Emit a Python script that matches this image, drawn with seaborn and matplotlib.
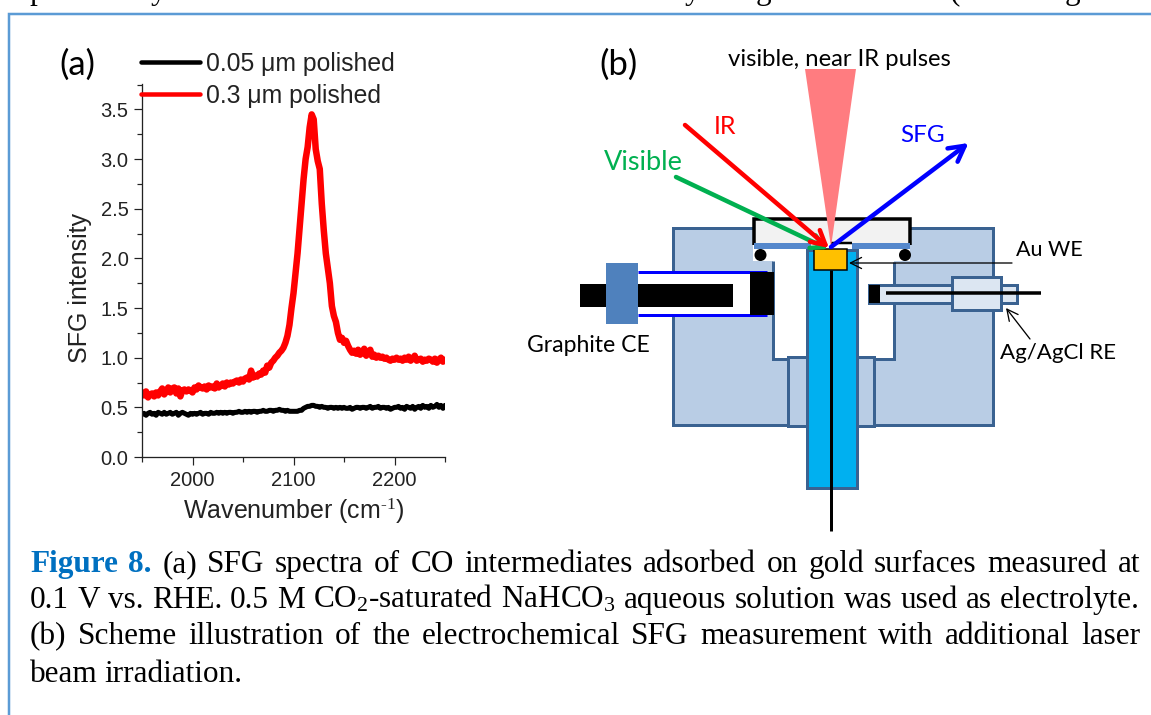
import matplotlib
matplotlib.use("Agg")
import matplotlib.pyplot as plt
from matplotlib.patches import Polygon, Rectangle, Circle, FancyArrowPatch
import seaborn as sns
import pandas as pd

# ---------- data ----------
wavenumber = list(range(1950, 2252, 2))
red_polished_03 = [
    .65,.62,.66,.60,.63,.64,.61,.65,.62,.66,.69,.63,.66,.70,.65,.69,.70,.64,.69,.61,.67,.68,.66,.68,.67,
    .65,.70,.68,.72,.70,.69,.71,.68,.72,.70,.71,.69,.74,.70,.72,.74,.71,.75,.73,.75,.74,.76,.77,.75,.78,
    .76,.79,.80,.78,.87,.80,.82,.81,.84,.83,.87,.85,.92,.90,.95,.97,1.00,1.02,1.05,1.07,1.10,1.15,1.22,1.33,1.50,
    1.65,1.85,2.05,2.30,2.55,2.80,3.00,3.12,3.32,3.45,3.40,3.10,2.98,2.90,2.55,2.28,2.05,1.90,1.75,1.52,1.42,1.36,1.25,1.18,1.20,
    1.15,1.17,1.12,1.08,1.05,1.07,1.04,1.08,1.03,1.05,1.09,1.02,1.06,1.08,1.01,1.03,1.00,1.02,1.00,1.01,.99,1.00,.98,.97,.99,.98,
    1.00,.98,.99,.97,1.00,.98,1.01,.97,.99,1.02,.97,.98,.99,.96,.98,.97,.99,.98,.96,.99,.95,.98,1.00,.96,.98]
black_polished_005 = [
    .43,.44,.42,.44,.45,.43,.44,.42,.45,.44,.43,.45,.43,.44,.45,.43,.44,.45,.42,.44,.45,.44,.43,.42,.44,
    .43,.44,.43,.44,.45,.43,.44,.44,.43,.45,.44,.44,.45,.44,.45,.44,.45,.44,.45,.45,.44,.45,.45,.46,.45,
    .45,.46,.45,.46,.45,.46,.46,.45,.46,.46,.47,.46,.46,.47,.47,.46,.47,.47,.48,.47,.47,.46,.47,.46,.46,
    .46,.46,.46,.47,.47,.49,.50,.51,.51,.52,.52,.51,.51,.50,.51,.50,.50,.49,.50,.50,.49,.50,.49,.50,.49,
    .50,.49,.49,.50,.48,.49,.50,.50,.49,.50,.50,.49,.50,.51,.49,.50,.50,.51,.49,.50,.50,.49,.50,.48,.49,.50,
    .50,.51,.49,.50,.48,.51,.50,.49,.51,.48,.50,.51,.49,.52,.50,.51,.49,.52,.50,.51,.53,.50,.52,.49,.52]
series_labels = ["0.05 \u03bcm polished", "0.3 \u03bcm polished"]
x_ticks = [2000, 2100, 2200]
y_ticks = [0.0, 0.5, 1.0, 1.5, 2.0, 2.5, 3.0, 3.5]
caption_lines = [
    "Figure 8. (a) SFG spectra of CO intermediates adsorbed on gold surfaces measured at",
    r"0.1 V vs. RHE. 0.5 M CO$_{\mathrm{2}}$-saturated NaHCO$_{\mathrm{3}}$ aqueous solution was used as electrolyte.",
    "(b) Scheme illustration of the electrochemical SFG measurement with additional laser",
    "beam irradiation.",
]

# ---------- figure ----------
sns.set_style("ticks")
SANS = "Liberation Sans"
HUMAN = "Lato"
plt.rcParams["font.family"] = [SANS, "DejaVu Sans"]
plt.rcParams["mathtext.fontset"] = "custom"
plt.rcParams["mathtext.rm"] = "Liberation Serif"
plt.rcParams["mathtext.default"] = "rm"

W, H = 1151, 715
PX = 0.72  # points per pixel at dpi 100
fig = plt.figure(figsize=(W / 100, H / 100), dpi=100, facecolor="white")

# Overlay in image pixel coordinates for the schematic, frame and caption
bg = fig.add_axes([0, 0, 1, 1], zorder=1)
bg.set_xlim(0, W); bg.set_ylim(H, 0); bg.axis("off")

# ---------- panel (a) ----------
ax = fig.add_axes([142 / W, 1 - 457 / H, 303 / W, 373 / H], zorder=2)
ax.patch.set_alpha(0)
df = pd.DataFrame({"w": wavenumber, "k": black_polished_005, "r": red_polished_03})
sns.lineplot(data=df, x="w", y="k", ax=ax, color="black", lw=5 * PX, label=series_labels[0], errorbar=None)
sns.lineplot(data=df, x="w", y="r", ax=ax, color="#FF0000", lw=6.5 * PX, label=series_labels[1], errorbar=None)
ax.set_xlim(1950, 2250)
ax.set_ylim(0, 3.756)
ax.set_xticks(x_ticks)
ax.set_xticks([1950, 2050, 2150, 2250], minor=True)
ax.set_yticks(y_ticks)
ax.set_yticks([0.25, 0.75, 1.25, 1.75, 2.25, 2.75, 3.25, 3.75], minor=True)
ax.set_yticklabels([f"{v:.1f}" for v in y_ticks])
ax.tick_params(which="major", length=8 * PX, width=1.2 * PX, labelsize=14.5, colors="#222222", pad=4)
ax.tick_params(which="minor", length=5 * PX, width=1.2 * PX, colors="#222222")
for s in ("top", "right"):
    ax.spines[s].set_visible(False)
for s in ("left", "bottom"):
    ax.spines[s].set_linewidth(1.3 * PX)
    ax.spines[s].set_color("#222222")
ax.set_xlabel("Wavenumber (cm$^{\\text{-1}}$)", fontsize=18, color="#222222", labelpad=5)
ax.set_ylabel("SFG intensity", fontsize=18, color="#222222")
ax.yaxis.set_label_coords(-0.165, 0.453)
leg = ax.legend(loc="upper left", bbox_to_anchor=(141 / W, 1 - 52 / H), bbox_transform=fig.transFigure,
                frameon=False, fontsize=17.8, borderpad=0, borderaxespad=0, labelspacing=0.32,
                handlelength=2.39, handletextpad=0.24)
for t in leg.get_texts():
    t.set_color("#222222")
for l in leg.get_lines():
    l.set_linewidth(4.5 * PX)

# ---------- schematic (b): positions in image pixels ----------
EDGE = "#3A6291"; BLOCK = "#B9CDE5"; LIGHT = "#DCE6F2"; FLANGE = "#4F81BD"
def rect(x0, y0, x1, y1, fc, ec="none", lw=0, z=2):
    bg.add_patch(Rectangle((x0, y0), x1 - x0, y1 - y0, fc=fc, ec=ec, lw=lw * PX, zorder=z, joinstyle="miter"))
def seg(xs, ys, color=EDGE, lw=3, z=3):
    bg.plot(xs, ys, color=color, lw=lw * PX, zorder=z, solid_capstyle="butt", solid_joinstyle="miter")

# cell body
bg.add_patch(Polygon([(673, 228), (753, 228), (753, 261), (772.6, 261), (772.6, 359), (788, 359), (788, 425), (673, 425)],
                     fc=BLOCK, ec="none", zorder=2))
bg.add_patch(Polygon([(910, 228), (993, 228), (993, 425), (874, 425), (874, 359), (894, 359), (894, 261), (910, 261)],
                     fc=BLOCK, ec="none", zorder=2))
seg([753, 673, 673, 788], [228, 228, 425, 425])
seg([772.6, 772.6, 788], [261, 359, 359])
seg([910, 993, 993, 874], [228, 228, 425, 425])
seg([894, 894, 874], [262, 359, 359])
rect(788, 357, 874, 426, BLOCK, EDGE, 3, z=3)

# graphite counter electrode
rect(638, 272, 767, 315, "white", z=3)
seg([638, 767], [272, 272], color="#0000FF", z=4)
seg([638, 767], [315, 315], color="#0000FF", z=4)
rect(580.5, 284, 733.5, 307, "black", z=4)
rect(606.5, 263, 638, 324, FLANGE, z=5)
rect(749.6, 272, 774.5, 315, "black", z=5)

# reference electrode
rect(869, 285, 1017.5, 303, LIGHT, EDGE, 3, z=4)
rect(952, 277, 1001.5, 310, LIGHT, EDGE, 3, z=5)
rect(869, 285, 880, 303, "black", z=6)
seg([886, 1041], [293, 293], color="black", lw=3.5, z=7)

# working electrode
rect(807, 250, 857, 488, "#00B0F0", EDGE, 3, z=6)
seg([831.5, 831.5], [270, 531], color="black", lw=3, z=7)
rect(814, 249, 847, 270, "#FFC000", "black", 1.5, z=8)

# window, seals
rect(754, 218, 910, 244, "#F2F2F2", z=6)
seg([754, 754, 910, 910], [245, 219, 219, 245], color="black", lw=3.5, z=7)
seg([831, 852], [243, 243], color="black", lw=2.5, z=7)
rect(754, 243, 811, 249, "#5588CC", z=7)
rect(852, 243, 910, 249, "#5588CC", z=7)
for cx in (760.5, 905):
    bg.add_patch(Circle((cx, 255), 6, fc="black", ec="none", zorder=7))

# beams
bg.add_patch(Polygon([(805, 69), (856, 69), (831, 247)], fc="#FF7C80", ec="none", zorder=8))
def arrow(p0, p1, color, lw, hl, hw, z=9):
    bg.add_patch(FancyArrowPatch(p0, p1, arrowstyle=f"->,head_length={hl},head_width={hw}", color=color,
                                 lw=lw * PX, shrinkA=0, shrinkB=0, mutation_scale=1, zorder=z))
arrow((676, 177), (828, 249), "#00B050", 4.5, 9, 5)
arrow((685, 125), (829, 248), "#FF0000", 4.5, 10, 5.5, z=10)
arrow((831, 247), (968.5, 143), "#0000FF", 4.5, 11, 6, z=10)
arrow((1012, 263), (849, 263), "black", 1.3, 8, 4, z=11)
arrow((1030, 339), (1006, 308), "black", 1.3, 8, 4, z=11)

# schematic labels
def label(x, y, s, color="black", size=17, ha="left", family=HUMAN):
    bg.text(x, y, s, color=color, fontsize=size, ha=ha, va="center", family=family, zorder=12)
label(59, 65, "(a)", size=25)
label(599, 65, "(b)", size=25)
label(839, 59, "visible, near IR pulses", ha="center", size=17.2)
label(714, 127, "IR", "#FF0000", size=18)
label(900, 136, "SFG", "#0000FF", size=17.5)
label(604, 163, "Visible", "#00B050", size=19.5)
label(1016, 250, "Au WE", size=15.5)
label(527, 345, "Graphite CE", size=16.6)
label(1000, 353, "Ag/AgCl RE", size=16)

# ---------- frame and cropped running text ----------
FRAME = "#5B9BD5"
seg([9, 9, W], [H, 14, 14], color=FRAME, lw=2.5, z=1)
for gx, g in ((37, "p"), (158, "y"), (692, "y"), (763, "g"), (955, "("), (1072, "g")):
    bg.text(gx, -1, g, fontsize=22.5, family="Liberation Serif", ha="center", va="baseline", color="black", clip_on=False)

# ---------- justified caption ----------
fig.canvas.draw()
rend = fig.canvas.get_renderer()
LEFT, RIGHT = 30, 1140
baselines = [572, 608, 644, 682]
for i, (line, by) in enumerate(zip(caption_lines, baselines)):
    words = line.split(" ")
    arts, widths = [], []
    for j, w in enumerate(words):
        bold = i == 0 and j < 2
        t = bg.text(0, by, w, fontsize=22.5, family="Liberation Serif", va="baseline",
                    fontweight="bold" if bold else "normal", color="#0070C0" if bold else "black")
        arts.append(t); widths.append(t.get_window_extent(rend).width)
    if i < 3:
        gap = (RIGHT - LEFT - sum(widths)) / (len(words) - 1)
    else:
        gap = 7
    x = LEFT
    for t, w in zip(arts, widths):
        t.set_x(x)
        x += w + gap

fig.savefig("out.png", dpi=100, facecolor="white")
